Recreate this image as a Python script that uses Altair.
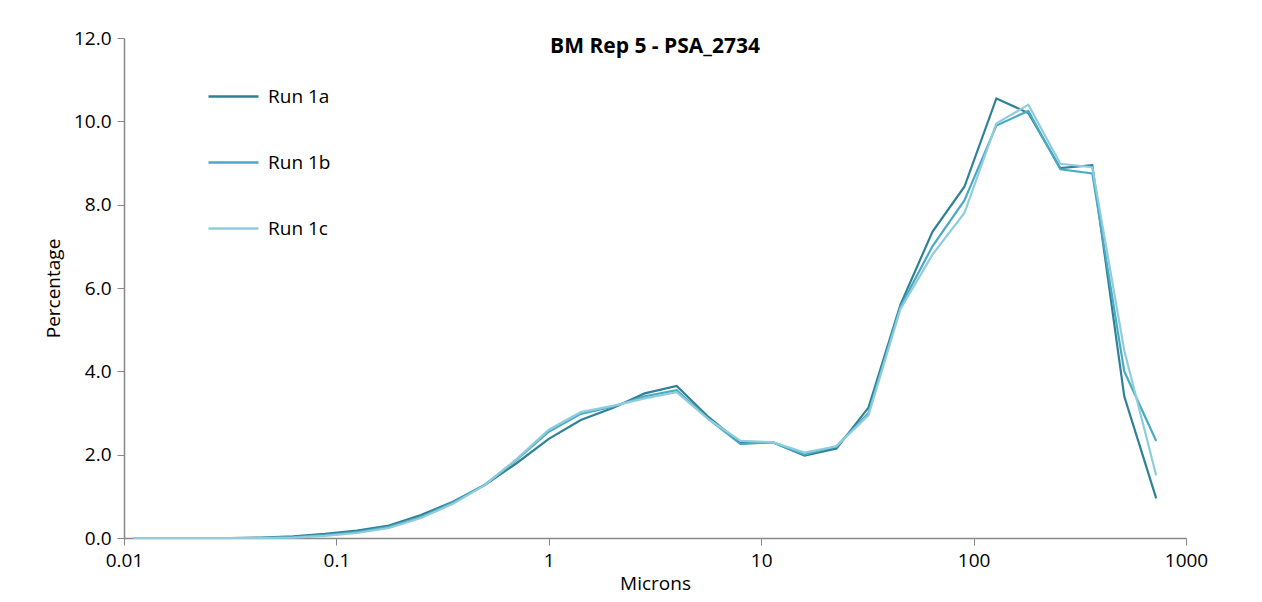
import altair as alt
import pandas as pd

# particle size bins (microns), sqrt(2) spacing
sizes = [2 ** (k / 2) for k in range(-13, 20)]

run_1a = [0, 0, 0, 0, 0.01, 0.04, 0.10, 0.18, 0.30, 0.55, 0.87, 1.27, 1.80, 2.38, 2.83, 3.12, 3.47,
          3.65, 2.90, 2.28, 2.30, 1.98, 2.15, 3.13, 5.60, 7.35, 8.43, 10.55, 10.20, 8.88, 8.95, 3.40, 0.95]
run_1b = [0, 0, 0, 0, 0, 0.02, 0.07, 0.14, 0.27, 0.50, 0.85, 1.28, 1.88, 2.55, 2.98, 3.15, 3.40,
          3.55, 2.85, 2.25, 2.30, 2.00, 2.20, 3.00, 5.55, 7.00, 8.10, 9.90, 10.25, 8.85, 8.75, 4.00, 2.33]
run_1c = [0, 0, 0, 0, 0, 0.01, 0.05, 0.12, 0.24, 0.48, 0.82, 1.27, 1.90, 2.60, 3.02, 3.17, 3.35,
          3.50, 2.85, 2.33, 2.30, 2.05, 2.20, 2.95, 5.50, 6.80, 7.80, 9.95, 10.40, 8.98, 8.90, 4.50, 1.50]

runs = ['Run 1a', 'Run 1b', 'Run 1c']
colours = ['#2E8196', '#4AAAC4', '#8FCCDD']

rows = []
for name, vals in zip(runs, [run_1a, run_1b, run_1c]):
    for s, v in zip(sizes, vals):
        rows.append({'Microns': s, 'Percentage': v, 'Run': name})
df = pd.DataFrame(rows)

font = 'Open Sans'

chart = alt.Chart(df).mark_line(strokeWidth=2.2).encode(
    alt.X('Microns:Q',
          scale=alt.Scale(type='log', domain=[0.01, 1000], nice=False),
          axis=alt.Axis(title='Microns', values=[0.01, 0.1, 1, 10, 100, 1000],
                        format='~g', grid=False, titlePadding=4, labelFlush=False)),
    alt.Y('Percentage:Q',
          scale=alt.Scale(domain=[0, 12]),
          axis=alt.Axis(title='Percentage', values=[0, 2, 4, 6, 8, 10, 12],
                        format='.1f', grid=False, titlePadding=10)),
    alt.Color('Run:N', scale=alt.Scale(domain=runs, range=colours),
              legend=alt.Legend(title=None, orient='none', legendX=83, legendY=32,
                                symbolType='stroke', symbolSize=2500, symbolStrokeWidth=2.5,
                                labelFontSize=19, labelFont=font, rowPadding=29,
                                labelOffset=8)),
    order='Run:N'
).properties(
    width=1062,
    height=500,
    title=alt.TitleParams('BM Rep 5 - PSA_2734', fontSize=21, font=font,
                          fontWeight='bold', offset=-28, anchor='middle'),
    autosize=alt.AutoSizeParams(type='none'),
    padding={'left': 116, 'top': 30, 'right': 68, 'bottom': 56},
    background='white'
).configure_view(
    stroke=None
).configure_axis(
    domainColor='#888888', tickColor='#888888', domainWidth=1.5, tickSize=7,
    labelFont=font, titleFont=font, labelFontSize=19, titleFontSize=19,
    labelColor='black', titleColor='black', titleFontWeight='normal', labelPadding=6
)

chart.save("out.html", embed_options={"renderer": "svg", "actions": False})
